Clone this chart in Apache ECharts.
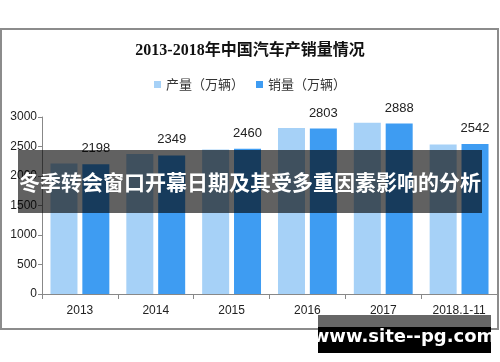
<!DOCTYPE html>
<html><head><meta charset="utf-8">
<script src="https://cdn.jsdelivr.net/npm/echarts@6/dist/echarts.min.js"></script>
<style>html,body{margin:0;padding:0;background:#fff}#c{width:500px;height:362px}</style>
</head><body><div id="c"></div>
<script>
var categories = ['2013','2014','2015','2016','2017','2018.1-11'];
var production = [2212,2372,2450,2812,2902,2535];
var sales = [2198,2349,2460,2803,2888,2542];
var yTicks = [0,500,1000,1500,2000,2500,3000];
var titleText = '2013-2018年中国汽车产销量情况';
var bannerText = '冬季转会窗口开幕日期及其受多重因素影响的分析';
var siteText = 'www.site--pg.com';

var chart = echarts.init(document.getElementById('c'), null, {renderer:'canvas'});
var numFont = '"Liberation Sans", "DejaVu Sans", sans-serif';
chart.setOption({
  animation:false,
  backgroundColor:'#fff',
  title:{text:titleText,left:'center',top:38,textStyle:{fontSize:16,fontWeight:'bold',color:'#111',fontFamily:'"Liberation Serif","Noto Sans CJK SC",serif'}},
  legend:{top:73,left:'center',itemWidth:7,itemHeight:7,itemGap:12,icon:'rect',
    textStyle:{fontSize:13,color:'#333',fontFamily:'"Noto Sans CJK SC",sans-serif'},
    data:['产量（万辆）','销量（万辆）']},
  grid:{left:42,right:3,top:117,bottom:68,containLabel:false},
  xAxis:{type:'category',data:categories,
    axisLine:{lineStyle:{color:'#888'}},
    axisTick:{show:true,length:5,lineStyle:{color:'#888'}},
    axisLabel:{fontSize:12,color:'#222',margin:11,fontFamily:numFont}},
  yAxis:{type:'value',min:yTicks[0],max:yTicks[yTicks.length-1],interval:500,
    axisLine:{show:true,lineStyle:{color:'#888'}},
    axisTick:{show:true,length:4,lineStyle:{color:'#888'}},
    splitLine:{show:false},
    axisLabel:{fontSize:12,color:'#222',margin:5,fontFamily:numFont,formatter:function(v){return String(v);}}},
  series:[
    {name:'产量（万辆）',type:'bar',data:production,barWidth:27,barGap:'18%',barCategoryGap:'22%',itemStyle:{color:'#a6d1f7'}},
    {name:'销量（万辆）',type:'bar',data:sales,barWidth:27,barGap:'18%',itemStyle:{color:'#3e9cf2'},
      label:{show:true,position:'top',distance:9,fontSize:13,color:'#222',fontFamily:numFont}}
  ],
  graphic:[
    {type:'rect',shape:{x:1,y:29,width:497,height:300},style:{fill:'none',stroke:'#8c8c8c',lineWidth:2},z:1},
    {type:'rect',shape:{x:18,y:150,width:464,height:63},style:{fill:'rgba(0,0,0,0.62)'},z:100},
    {type:'text',x:250,y:182,style:{text:bannerText,fill:'#fff',fontSize:21,fontWeight:'bold',align:'center',verticalAlign:'middle',fontFamily:'"Noto Sans CJK SC",sans-serif'},z:101},
    {type:'rect',shape:{x:318,y:315,width:173,height:12},style:{fill:'#666'},z:100},
    {type:'rect',shape:{x:318,y:327,width:173,height:26},style:{fill:'#000'},z:100},
    {type:'text',x:404,y:337,style:{text:siteText,fill:'#fff',fontSize:18,fontWeight:'bold',align:'center',verticalAlign:'middle',fontFamily:'"DejaVu Sans",sans-serif'},z:101}
  ]
});
</script></body></html>
